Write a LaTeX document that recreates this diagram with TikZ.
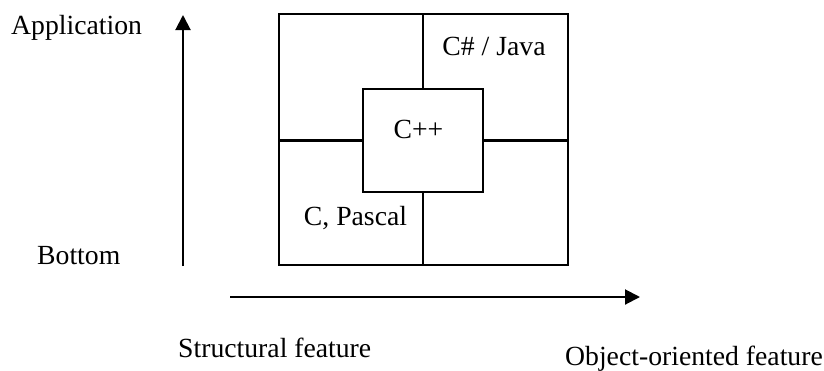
\documentclass[tikz,border=0pt]{standalone}
\usepackage{fontspec}
\setmainfont{Liberation Serif}
\usetikzlibrary{arrows.meta}
\begin{document}
\begin{tikzpicture}[x=1pt,y=-1pt,
  frame/.style={line width=2pt},
  axis/.style={line width=2pt,-{Triangle[length=15pt,width=15pt]}},
  lbl/.style={font=\fontsize{27.7}{32}\selectfont,inner sep=0pt}]
\useasboundingbox (0,0) rectangle (824,370);
% outer grid
\coordinate (tl) at (279,14);
\coordinate (br) at (568,265);
\draw[frame] (tl) rectangle (br);
% cell dividers around the central box
\draw[frame] (423,14) -- (423,89);
\draw[frame] (423,192) -- (423,265);
\draw[line width=3pt] (279,140) -- (363,140);
\draw[line width=3pt] (483,140) -- (568,140);
% central box
\node[draw,line width=2pt,minimum width=120pt,minimum height=103pt,inner sep=0pt,fill=white] (cpp) at (423,140.5) {};
% labels
\node[lbl,anchor=base] (java) at (494,55) {C\# / Java};
\node[lbl,anchor=base] (cpplbl) at (418.5,138) {C++};
\node[lbl,anchor=base] (pascal) at (355.5,225) {C, Pascal};
\node[lbl,anchor=base west] (app) at (11,34) {Application};
\node[lbl,anchor=base west] (bot) at (37,264) {Bottom};
\node[lbl,anchor=base west] (struct) at (178,357) {Structural feature};
\node[lbl,anchor=base east] (oo) at (823,365) {Object-oriented feature};
% axes
\coordinate (vs) at (183,266);
\coordinate (ve) at (183,15);
\coordinate (hs) at (230,297);
\coordinate (he) at (640,297);
\draw[axis] (vs) -- (ve);
\draw[axis] (hs) -- (he);
\end{tikzpicture}
\end{document}
